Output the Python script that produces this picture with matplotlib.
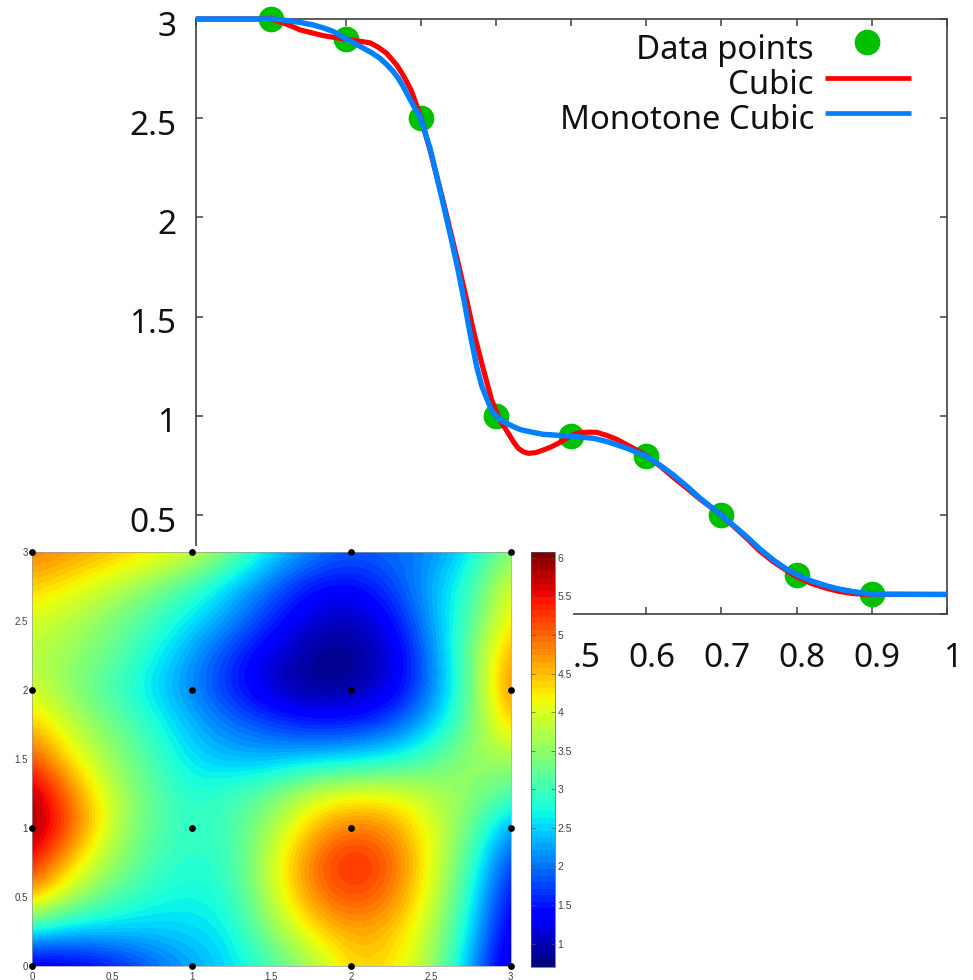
import matplotlib
matplotlib.use('Agg')
from matplotlib import pyplot as plt
from matplotlib.transforms import ScaledTranslation
import numpy as np

W, H = 973, 980

# line plot
pts_x = [0.1, 0.2, 0.3, 0.4, 0.5, 0.6, 0.7, 0.8, 0.9]
pts_y = [3, 2.9, 2.5, 1, 0.9, 0.8, 0.5, 0.2, 0.1]

cubic_x = [0, 0.1, 0.11, 0.12, 0.13, 0.139, 0.155, 0.17, 0.185, 0.2, 0.215, 0.232, 0.243, 0.2543, 0.2676,
           0.275, 0.281, 0.287, 0.292, 0.3, 0.312, 0.3297, 0.3399, 0.3506, 0.3608, 0.3706, 0.3821, 0.3941,
           0.403, 0.41, 0.4163, 0.423, 0.4296, 0.436, 0.4429, 0.453, 0.4629, 0.473, 0.4829, 0.4988, 0.505,
           0.5117, 0.5225, 0.5339, 0.547, 0.5606, 0.5827, 0.6, 0.618, 0.636, 0.654, 0.6715, 0.7, 0.7337,
           0.75, 0.769, 0.785, 0.8, 0.82, 0.84, 0.857, 0.8757, 0.9, 1]
cubic_y = [3, 3, 2.99, 2.975, 2.96, 2.945, 2.93, 2.916, 2.907, 2.898, 2.89, 2.88, 2.858, 2.827, 2.768,
           2.725, 2.684, 2.64, 2.588, 2.5, 2.34, 2.08, 1.92, 1.752, 1.584, 1.416, 1.248, 1.08,
           0.996, 0.95, 0.912, 0.87, 0.836, 0.82, 0.811, 0.815, 0.828, 0.843, 0.862, 0.898, 0.908,
           0.915, 0.918, 0.917, 0.902, 0.882, 0.837, 0.8, 0.748, 0.69, 0.635, 0.58, 0.5, 0.383,
           0.322, 0.265, 0.225, 0.19, 0.155, 0.131, 0.115, 0.104, 0.1, 0.1]

mono_x = [0, 0.1, 0.1125, 0.1256, 0.14, 0.1566, 0.17, 0.1833, 0.2, 0.2115, 0.2232, 0.2343, 0.2454, 0.2545,
          0.2631, 0.27, 0.2764, 0.283, 0.2898, 0.2996, 0.306, 0.312, 0.3289, 0.3386, 0.3484, 0.3573, 0.3653,
          0.3742, 0.381, 0.3883, 0.394, 0.4008, 0.41, 0.4229, 0.433, 0.4451, 0.4629, 0.4988, 0.5295, 0.55,
          0.574, 0.6, 0.618, 0.636, 0.654, 0.6715, 0.7, 0.7337, 0.75, 0.769, 0.785, 0.801, 0.82, 0.84,
          0.857, 0.8757, 0.9, 1]
mono_y = [3, 3, 2.997, 2.99, 2.982, 2.97, 2.955, 2.937, 2.9, 2.878, 2.853, 2.83, 2.802, 2.77,
          2.735, 2.7, 2.66, 2.612, 2.565, 2.5, 2.42, 2.349, 2.08, 1.92, 1.752, 1.584, 1.416,
          1.248, 1.15, 1.08, 1.03, 0.996, 0.97, 0.946, 0.93, 0.92, 0.907, 0.898, 0.887, 0.868,
          0.837, 0.798, 0.752, 0.702, 0.645, 0.585, 0.5, 0.391, 0.333, 0.274, 0.232, 0.198, 0.168, 0.143,
          0.127, 0.114, 0.102, 0.1]

# labels under the pasted heat map do not show in the picture
x_ticks = [0, 0.1, 0.2, 0.3, 0.4, 0.5, 0.6, 0.7, 0.8, 0.9, 1]
x_labels = ['', '', '', '', '', '.5', '0.6', '0.7', '0.8', '0.9', '1']
y_ticks = [0, 0.5, 1, 1.5, 2, 2.5, 3]
y_labels = ['', '0.5', '1', '1.5', '2', '2.5', '3']

# heat map, rows from y=0 up to y=3, columns x=0..3 in steps of 0.25
heat_rows = [
    [1.10, 1.20, 1.45, 1.85, 2.25, 2.55, 3.00, 3.60, 4.40, 4.30, 3.70, 2.20, 0.95],
    [2.60, 2.40, 2.40, 2.45, 2.50, 2.65, 3.50, 4.25, 4.65, 4.50, 3.80, 2.55, 1.10],
    [4.60, 3.70, 3.15, 2.80, 2.70, 2.85, 3.80, 4.80, 5.20, 4.90, 4.00, 2.75, 1.30],
    [5.55, 4.35, 3.60, 3.05, 2.80, 2.95, 3.95, 4.95, 5.50, 5.10, 4.10, 3.00, 1.60],
    [6.05, 5.10, 3.85, 3.15, 2.90, 3.00, 3.65, 4.50, 4.95, 4.75, 4.05, 3.30, 2.10],
    [5.95, 4.85, 3.85, 3.20, 2.80, 3.00, 3.30, 3.90, 4.10, 4.10, 3.75, 3.50, 3.10],
    [5.20, 4.20, 3.55, 3.05, 2.55, 2.35, 2.35, 2.45, 2.55, 2.70, 3.10, 3.60, 3.60],
    [4.50, 3.80, 3.35, 2.85, 2.35, 2.00, 1.75, 1.55, 1.55, 1.80, 2.40, 3.30, 4.50],
    [3.95, 3.45, 3.00, 2.55, 2.10, 1.55, 1.05, 0.80, 0.85, 1.20, 2.00, 3.20, 5.00],
    [3.80, 3.55, 3.25, 2.75, 2.20, 1.65, 1.15, 0.80, 0.75, 1.10, 2.05, 3.30, 4.80],
    [3.95, 3.75, 3.40, 3.00, 2.60, 2.15, 1.60, 1.10, 0.95, 1.35, 2.25, 3.10, 4.30],
    [4.45, 4.15, 3.85, 3.45, 3.00, 2.45, 1.95, 1.45, 1.35, 1.75, 2.30, 2.95, 4.10],
    [4.90, 4.75, 4.55, 4.30, 4.05, 3.35, 2.60, 2.15, 1.90, 1.95, 2.10, 2.60, 3.50],
]
node_x = [0, 1, 2, 3]
node_y = [0, 1, 2, 3]
cbar_ticks = [1, 1.5, 2, 2.5, 3, 3.5, 4, 4.5, 5, 5.5, 6]
cbar_labels = ['1', '1.5', '2', '2.5', '3', '3.5', '4', '4.5', '5', '5.5', '6']
heat_ticks = [0, 0.5, 1, 1.5, 2, 2.5, 3]
heat_labels = ['0', '0.5', '1', '1.5', '2', '2.5', '3']


def box(left, top, right, bottom):
    # pixel box (from the top left corner) to figure fractions
    return [left / W, 1 - bottom / H, (right - left) / W, (bottom - top) / H]


fig = plt.figure(figsize=(W / 100, H / 100), dpi=100, facecolor='white')
FONT = 'Noto Sans'
EDGE = '#404040'

ax = fig.add_axes(box(195.7, 19, 946.7, 614.3), zorder=1)
ax.plot(pts_x, pts_y, 'o', color='#00c000', ms=18.5, mew=0, clip_on=False, zorder=3)
ax.plot(cubic_x, cubic_y, color='#ff0000', lw=3.7, clip_on=False, zorder=4, solid_capstyle='butt')
ax.plot(mono_x, mono_y, color='#0080ff', lw=3.9, clip_on=False, zorder=5, solid_capstyle='butt')
ax.set_xlim(0, 1)
ax.set_ylim(0, 3)
ax.set_xticks(x_ticks, x_labels, family=FONT, fontsize=24, color='#111111')
ax.set_yticks(y_ticks, y_labels, family=FONT, fontsize=24, color='#111111')
ax.tick_params(direction='in', length=5, width=1.1, color=EDGE, top=True, right=True)
ax.tick_params(axis='x', pad=20)
ax.tick_params(axis='y', pad=14)
for s in ax.spines.values():
    s.set_linewidth(1.2)
    s.set_color(EDGE)
# gnuplot labels sit a little right of / under their ticks
for t in ax.get_xticklabels():
    # the cut off .5 is narrower, so it needs a bigger shift to stay where it was
    dx = 15.5 if t.get_text() == '.5' else 5.5
    t.set_transform(t.get_transform() + ScaledTranslation(dx / 100, 0, fig.dpi_scale_trans))
for t in ax.get_yticklabels():
    t.set_transform(t.get_transform() + ScaledTranslation(0, -4 / 100, fig.dpi_scale_trans))

# legend built by hand, labels right aligned against the samples
for label, ty in zip(['Data points', 'Cubic', 'Monotone Cubic'], [59, 94, 129]):
    fig.text(814 / W, 1 - ty / H, label, ha='right', va='baseline', family=FONT, fontsize=23.7,
             color='#111111', zorder=1.5)
ax.plot([867 / W], [1 - 42 / H], 'o', color='#00c000', ms=18.5, mew=0, transform=fig.transFigure, clip_on=False, zorder=6)
ax.plot([825 / W, 911 / W], [1 - 77.7 / H] * 2, color='#ff0000', lw=3.4, transform=fig.transFigure, clip_on=False,
        zorder=6, solid_capstyle='butt')
ax.plot([825 / W, 911 / W], [1 - 113 / H] * 2, color='#0080ff', lw=3.4, transform=fig.transFigure, clip_on=False,
        zorder=6, solid_capstyle='butt')

# white panel of the pasted heat map hides the lower left of the line plot
cover = fig.add_axes(box(0, 546, 573, 980), zorder=2)
cover.set_facecolor('white')
cover.set_xticks([])
cover.set_yticks([])
for s in cover.spines.values():
    s.set_visible(False)

hm = fig.add_axes(box(32.3, 552, 510.7, 966.3), zorder=3)
cmap = plt.get_cmap('jet', 64)
im = hm.imshow(np.array(heat_rows), origin='lower', extent=(-0.125, 3.125, -0.125, 3.125), aspect='auto',
               cmap=cmap, vmin=0.7, vmax=6.08, interpolation='bicubic')
hm.set_xlim(0, 3)
hm.set_ylim(0, 3)
nx, ny = np.meshgrid(node_x, node_y)
hm.scatter(nx.ravel(), ny.ravel(), s=24, color='black', linewidths=0, clip_on=False, zorder=5)
hm.set_xticks(heat_ticks, heat_labels, fontsize=7, family='Liberation Sans', color='#404040')
hm.set_yticks(heat_ticks, heat_labels, fontsize=7, family='Liberation Sans', color='#404040')
hm.tick_params(length=0, pad=3)
hm.tick_params(axis='x', pad=4)
for s in hm.spines.values():
    s.set_linewidth(0.5)
    s.set_color('#999999')

cax = fig.add_axes(box(530.7, 551.7, 554.7, 966.7), zorder=3)
cb = fig.colorbar(im, cax=cax, ticks=cbar_ticks)
cb.ax.set_yticklabels(cbar_labels, fontsize=7.5, family='Liberation Sans', color='#404040')
cb.ax.tick_params(direction='in', length=3, width=0.5, color='#555555', pad=2, left=True, right=True)
cb.outline.set_linewidth(0.5)
cb.outline.set_edgecolor('#555555')

fig.savefig('out.png', dpi=100, facecolor='white')
